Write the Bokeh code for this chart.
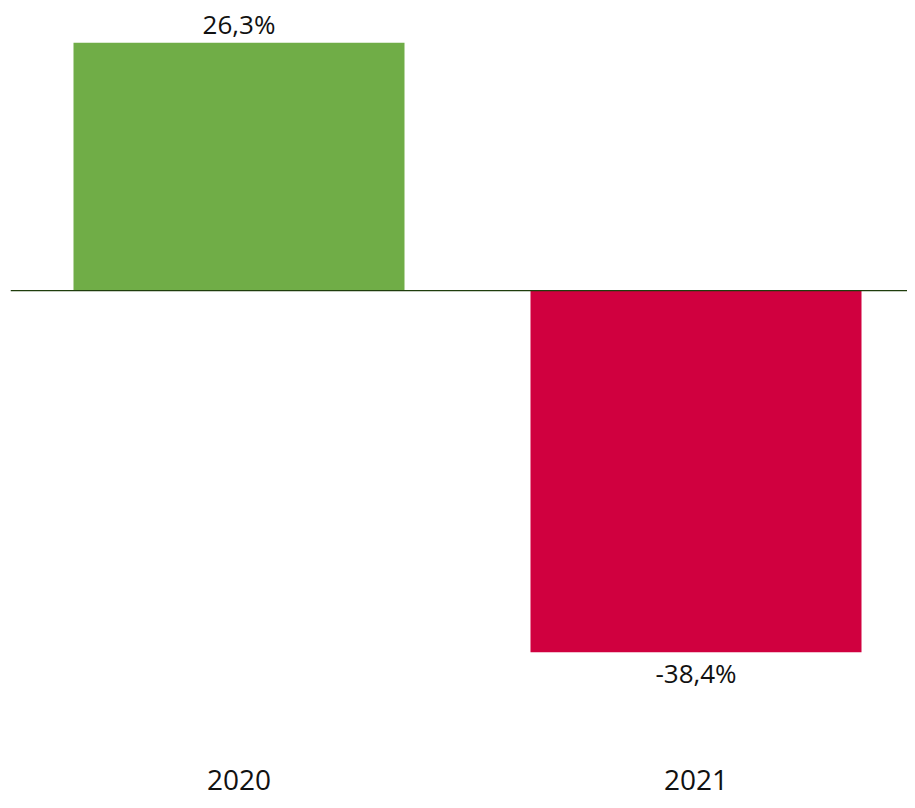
from bokeh.plotting import figure
from bokeh.models import ColumnDataSource, Span, Range1d
from bokeh.core.properties import value
from bokeh.embed import file_html
from bokeh.resources import INLINE

years = ["2020", "2021"]
changes = [26.3, -38.4]
labels = ["26,3%", "-38,4%"]
colors = ["#70AD47", "#D0003F"]

xs = list(range(len(years)))
y_rng = Range1d(-54.14, 30.79)
src = ColumnDataSource(dict(x=xs, top=changes, color=colors, label=labels))
pos = ColumnDataSource(dict(x=[x for x, v in zip(xs, changes) if v >= 0],
                            y=[v for v in changes if v >= 0],
                            label=[l for l, v in zip(labels, changes) if v >= 0]))
neg = ColumnDataSource(dict(x=[x for x, v in zip(xs, changes) if v < 0],
                            y=[v for v in changes if v < 0],
                            label=[l for l, v in zip(labels, changes) if v < 0]))
cats = ColumnDataSource(dict(x=xs, y=[y_rng.start] * len(xs), label=years))

p = figure(width=907, height=800, output_backend="svg", toolbar_location=None,
           x_range=Range1d(-0.5, 1.4628), y_range=y_rng,
           min_border_left=10, min_border_right=0, min_border_top=0, min_border_bottom=0,
           x_axis_location=None, y_axis_location=None)
p.outline_line_color = None
p.grid.visible = False
p.background_fill_color = "white"
p.border_fill_color = "white"

p.vbar(x="x", top="top", bottom=0, width=0.7243, color="color", line_color=None, source=src)

p.add_layout(Span(location=0, dimension="width", line_color="#1f3d0c", line_width=1.3))

font = value("Open Sans")
p.text(x="x", y="y", text="label", source=pos, text_font=font, text_font_size="26px",
       text_align="center", text_baseline="alphabetic", y_offset=-19, text_color="#111111")
p.text(x="x", y="y", text="label", source=neg, text_font=font, text_font_size="26px",
       text_align="center", text_baseline="alphabetic", y_offset=21, text_color="#111111")
p.text(x="x", y="y", text="label", source=cats, text_font=font, text_font_size="28px",
       text_align="center", text_baseline="alphabetic", y_offset=-21, text_color="#111111")

open("out.html", "w").write(file_html(p, INLINE))
